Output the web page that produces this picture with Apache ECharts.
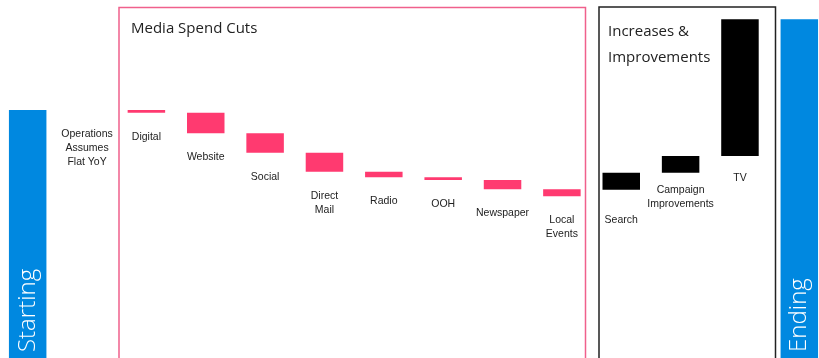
<!DOCTYPE html>
<html>
<head>
<meta charset="utf-8">
<script src="https://cdn.jsdelivr.net/npm/echarts@6/dist/echarts.min.js"></script>
<style>
html,body{margin:0;padding:0;background:#fff;}
#chart{width:819px;height:358px;}
</style>
</head>
<body>
<div id="chart"></div>
<script>
// Categories of the waterfall
var categories = ['Starting', 'Operations\nAssumes\nFlat YoY', 'Digital', 'Website', 'Social', 'Direct\nMail', 'Radio', 'OOH', 'Newspaper', 'Local\nEvents', 'Search', 'Campaign\nImprovements', 'TV', 'Ending'];
// Bottom and top of each floating bar (value units)
var lows  = [0, 100, 98.9, 90.7, 82.9, 75.3, 73.1, 72.0, 68.3, 65.5, 68.1, 74.9, 81.6, 0];
var highs = [100, 100, 100, 98.9, 90.7, 82.9, 75.3, 73.1, 72.0, 68.3, 74.9, 81.6, 136.3, 136.3];
// Kind of each bar: total, cut, increase
var kinds = ['total', 'flat', 'cut', 'cut', 'cut', 'cut', 'cut', 'cut', 'cut', 'cut', 'up', 'up', 'up', 'total'];
// Group titles
var groupTitles = ['Media Spend Cuts', 'Increases &\nImprovements'];

var colors = { total: '#0088E0', cut: '#FF3A70', up: '#000000', flat: '#FF3A70' };
var labelDist = { 10: 23, 11: 10, 12: 15 };

var chart = echarts.init(document.getElementById('chart'), null, { renderer: 'canvas' });

var baseData = lows.slice();
var deltaData = categories.map(function (c, i) {
  var k = kinds[i];
  var item = { value: +(highs[i] - lows[i]).toFixed(2), itemStyle: { color: colors[k] } };
  if (k === 'total') {
    item.label = {
      show: true, position: 'insideBottom', rotate: 90, align: 'left', verticalAlign: 'middle',
      distance: 8, color: '#fff', fontSize: 24, fontFamily: 'Open Sans', fontWeight: 300,
      formatter: c
    };
  } else {
    item.label = {
      show: true, position: 'bottom', distance: labelDist[i] !== undefined ? labelDist[i] : 17,
      color: '#222', fontSize: 10.5, lineHeight: 14, fontFamily: 'Liberation Sans', formatter: c
    };
  }
  return item;
});

chart.setOption({
  animation: false,
  grid: { left: -2, width: 831, top: 10, height: 350, containLabel: false, outerBoundsMode: 'none' },
  xAxis: {
    type: 'category', data: categories,
    axisLine: { show: false }, axisTick: { show: false }, axisLabel: { show: false }
  },
  yAxis: {
    type: 'value', min: 0, max: 140,
    splitLine: { show: false }, axisLine: { show: false }, axisTick: { show: false }, axisLabel: { show: false }
  },
  graphic: [
    { type: 'rect', z: 0, shape: { x: 119, y: 7.5, width: 466.5, height: 400 },
      style: { fill: 'none', stroke: '#F0608C', lineWidth: 1.5 } },
    { type: 'rect', z: 0, shape: { x: 599, y: 7, width: 176.5, height: 400 },
      style: { fill: 'none', stroke: '#222', lineWidth: 1.5 } },
    { type: 'text', left: 131, top: 21, style: { text: groupTitles[0], fill: '#222', font: '15px "Open Sans"' } },
    { type: 'text', left: 608, top: 19, style: { text: groupTitles[1], fill: '#222', font: '15px "Open Sans"', lineHeight: 26 } }
  ],
  series: [
    { name: 'base', type: 'bar', stack: 'w', data: baseData, barWidth: 37.5,
      itemStyle: { color: 'transparent' }, emphasis: { disabled: true }, silent: true },
    { name: 'delta', type: 'bar', stack: 'w', data: deltaData, barWidth: 37.5 }
  ]
});
</script>
</body>
</html>
